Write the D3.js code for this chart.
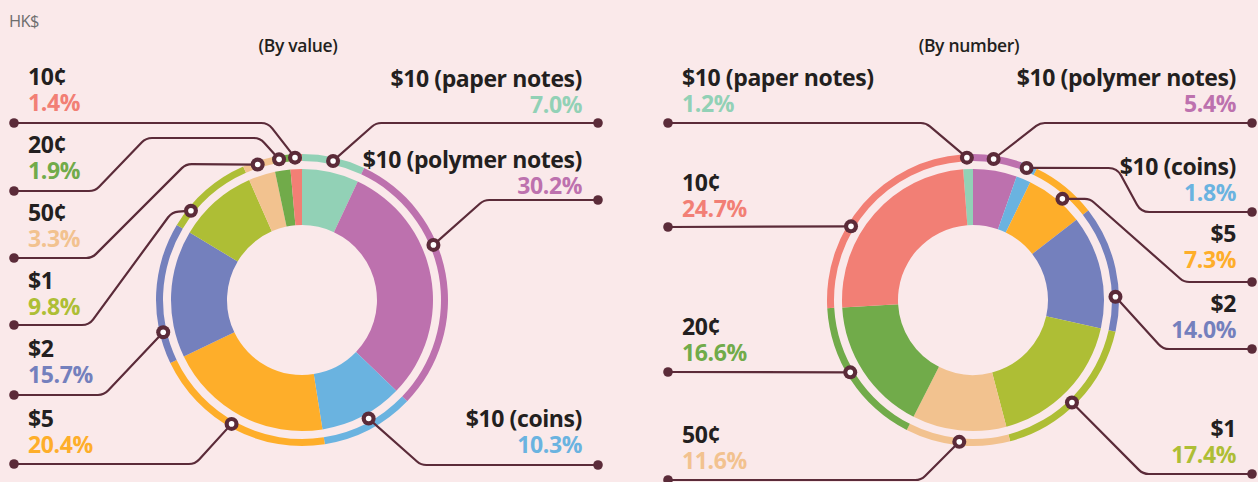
<!DOCTYPE html>
<html>
<head>
<meta charset="utf-8">
<script src="https://cdn.jsdelivr.net/npm/d3@7"></script>
<style>
  body { margin: 0; background: #fae9ea; }
  svg { display: block; }
  .label { font-family: "Open Sans", sans-serif; font-weight: 700; font-size: 23px; letter-spacing: -0.4px; }
  .title { font-family: "Open Sans", sans-serif; font-weight: 600; font-size: 17.5px; letter-spacing: -0.3px; fill: #231f20; }
</style>
</head>
<body>
<script>
// shares of currency in circulation, percent
const categories = ['$10 (paper notes)', '$10 (polymer notes)', '$10 (coins)', '$5', '$2', '$1', '50¢', '20¢', '10¢'];
const byValue = [7.0, 30.2, 10.3, 20.4, 15.7, 9.8, 3.3, 1.9, 1.4];
const byNumber = [1.2, 5.4, 1.8, 7.3, 14.0, 17.4, 11.6, 16.6, 24.7];
const colors = ['#92d1b6', '#bd71ae', '#6ab3e0', '#feae2a', '#7480bd', '#aebe35', '#f2c28f', '#71ab4a', '#f27f75'];

const W = 1258, H = 482;
const lineCol = '#5b2b39';

// label layout: side, dot y, name baseline, marker angle nudge (deg), bends of the leader line
const valueLayout = [
  { side: 'R', dotY: 123, nameY: 87, nudge: 0, bends: [[376, 123]] },
  { side: 'R', dotY: 200, nameY: 168, nudge: -12.3, bends: [[484, 200]] },
  { side: 'R', dotY: 465, nameY: 427, nudge: -1.8, r: 136, bends: [[421, 465]] },
  { side: 'L', dotY: 464, nameY: 427, nudge: 1.9, bends: [[195, 464]] },
  { side: 'L', dotY: 395, nameY: 357, nudge: -15.8, bends: [[104, 395]] },
  { side: 'L', dotY: 325, nameY: 289, nudge: -9.8, bends: [[172, 212], [89, 325]] },
  { side: 'L', dotY: 258, nameY: 221, nudge: -0.3, bends: [[186, 164], [92, 258]] },
  { side: 'L', dotY: 191, nameY: 153, nudge: -0.8, bends: [[260, 138], [146, 138], [95, 191]] },
  { side: 'L', dotY: 123, nameY: 85, nudge: -0.3, bends: [[268, 123]] }
];
const numberLayout = [
  { side: 'L', dotY: 123, nameY: 86, nudge: -0.3, bends: [[926, 123]] },
  { side: 'R', dotY: 123, nameY: 86, nudge: -1.4, bends: [[1040, 123]] },
  { side: 'R', dotY: 212, nameY: 175, nudge: -0.6, bends: [[1117, 168], [1141, 212]] },
  { side: 'R', dotY: 282, nameY: 242, nudge: 2.4, r: 135, bends: [[1090, 199], [1184, 282]] },
  { side: 'R', dotY: 349, nameY: 312, nudge: 11.3, bends: [[1163, 349]] },
  { side: 'R', dotY: 474, nameY: 437, nudge: 2.1, bends: [[1143, 474]] },
  { side: 'L', dotY: 480, nameY: 443, nudge: -0.6, bends: [[921, 480]] },
  { side: 'L', dotY: 372, nameY: 335, nudge: 2.6, bends: [] },
  { side: 'L', dotY: 227, nameY: 191, nudge: -10.1, bends: [] }
];

const svg = d3.select('body').append('svg')
  .attr('width', W)
  .attr('height', H);

svg.append('rect').attr('width', W).attr('height', H).attr('fill', '#fae9ea');

svg.append('text')
  .attr('x', 9).attr('y', 27)
  .style('font-family', '"Open Sans", sans-serif').style('font-weight', 400)
  .style('font-size', '16.5px').style('letter-spacing', '-0.6px').attr('fill', '#6e6e6e')
  .text('HK$');

function drawDonut(values, layout, cx, cy, title, leftX, rightX, startShift) {
  const offset = -2 * Math.PI * startShift / d3.sum(values);
  const pie = d3.pie().sort(null).value(d => d)
    .startAngle(offset).endAngle(offset + 2 * Math.PI);
  const arcs = pie(values);

  const main = d3.arc().innerRadius(75).outerRadius(131);
  const ring = d3.arc().innerRadius(139).outerRadius(146);

  const g = svg.append('g');

  g.append('text').attr('class', 'title')
    .attr('x', cx - 4).attr('y', 52)
    .attr('text-anchor', 'middle')
    .text(title);

  const donut = g.append('g').attr('transform', `translate(${cx},${cy})`);
  donut.selectAll('path.seg')
    .data(arcs).enter().append('path')
    .attr('class', 'seg')
    .attr('d', main)
    .attr('fill', (d, i) => colors[i]);
  donut.selectAll('path.ring')
    .data(arcs).enter().append('path')
    .attr('class', 'ring')
    .attr('d', ring)
    .attr('fill', (d, i) => colors[i]);

  arcs.forEach((a, i) => {
    const L = layout[i];
    const ang = (a.startAngle + a.endAngle) / 2 + L.nudge * Math.PI / 180;
    const r = L.r || 142.5;
    const mx = cx + r * Math.sin(ang), my = cy - r * Math.cos(ang);
    const dotX = L.side === 'L' ? leftX : rightX;

    const pts = [[mx, my]].concat(L.bends, [[dotX, L.dotY]]);
    const p = d3.path();
    p.moveTo(pts[0][0], pts[0][1]);
    for (let k = 1; k < pts.length - 1; k++) {
      p.arcTo(pts[k][0], pts[k][1], pts[k + 1][0], pts[k + 1][1], 14);
    }
    p.lineTo(pts[pts.length - 1][0], pts[pts.length - 1][1]);

    g.append('path')
      .attr('d', p.toString())
      .attr('fill', 'none')
      .attr('stroke', lineCol)
      .attr('stroke-width', 2.2);

    g.append('circle').attr('cx', dotX).attr('cy', L.dotY).attr('r', 4.8).attr('fill', lineCol);

    L.mx = mx; L.my = my;

    // two-line label: name, then share in the slice colour
    const tx = L.side === 'L' ? dotX + 14 : dotX - 16;
    const anchor = L.side === 'L' ? 'start' : 'end';
    const label = g.append('text').attr('class', 'label')
      .attr('text-anchor', anchor);
    label.append('tspan')
      .attr('x', tx).attr('y', L.nameY)
      .attr('fill', '#231f20')
      .text(categories[i]);
    label.append('tspan')
      .attr('x', tx).attr('y', L.nameY + 26)
      .attr('fill', colors[i])
      .text(d3.format('.1f')(values[i]) + '%');
  });

  // markers on top
  layout.forEach(L => {
    g.append('circle').attr('cx', L.mx).attr('cy', L.my).attr('r', 7).attr('fill', lineCol);
    g.append('circle').attr('cx', L.mx).attr('cy', L.my).attr('r', 2.8).attr('fill', '#fff');
  });
}

drawDonut(byValue, valueLayout, 302, 300, '(By value)', 14, 598, 0);
drawDonut(byNumber, numberLayout, 973, 300, '(By number)', 668, 1252, byNumber[0]);
</script>
</body>
</html>
